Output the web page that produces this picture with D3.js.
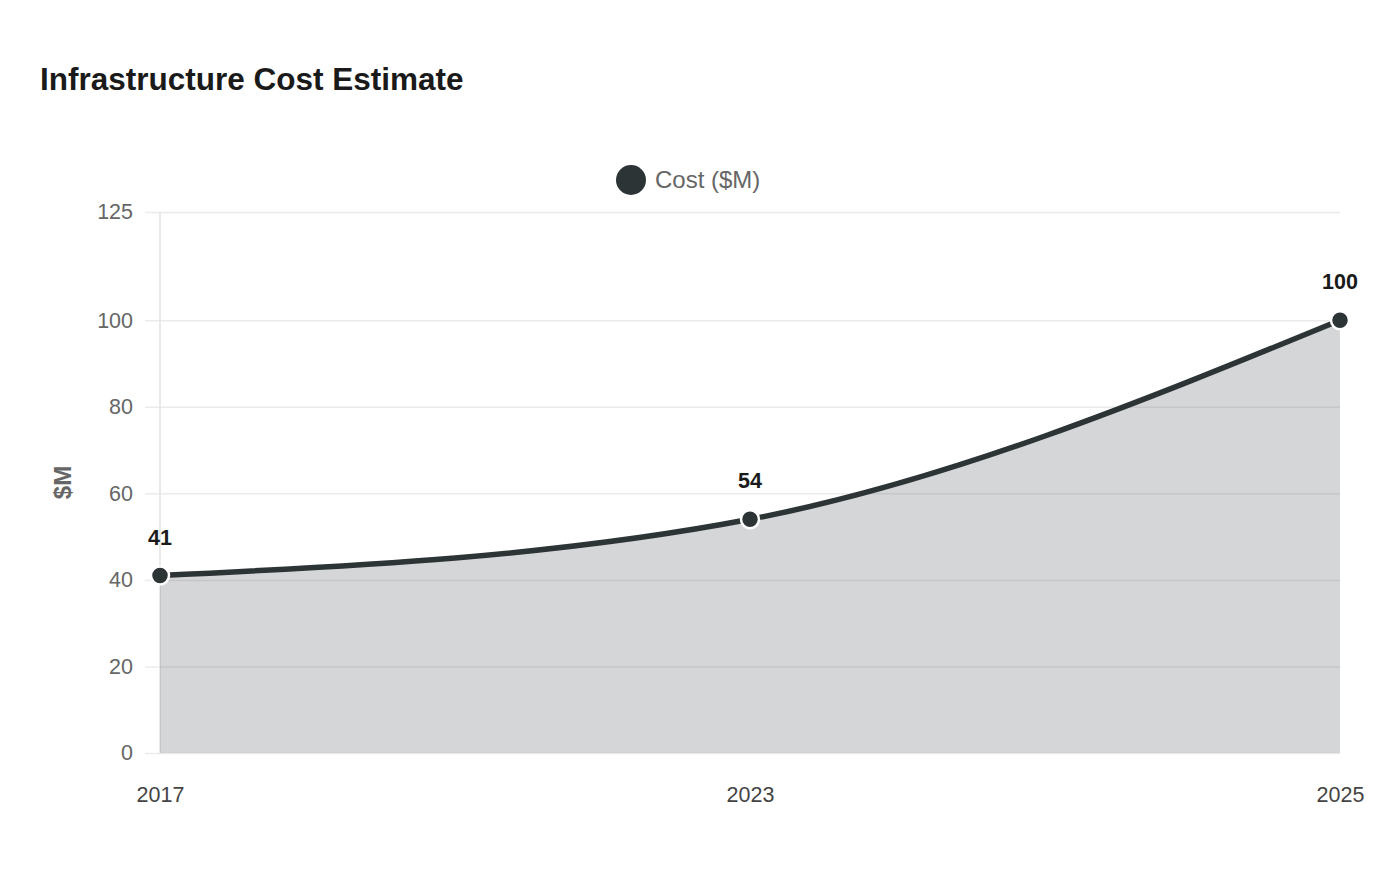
<!DOCTYPE html>
<html lang="en">
  <head>
    <meta charset="utf-8">
    <title>Infrastructure Cost Estimate</title>
    <script src="https://cdn.jsdelivr.net/npm/d3@7/dist/d3.min.js"></script>
    <style>
      body { margin: 0; background: #fff; font-family: "Liberation Sans", Arial, sans-serif; }
    </style>
  </head>
  <body>
    <div id="chart"></div>
    <script>
      // Data
      const years = ['2017', '2023', '2025'];
      const cost = [41, 54, 100];
      const yTicks = [0, 20, 40, 60, 80, 100, 125];

      const width = 1400, height = 880;
      const margin = { top: 212, right: 60, bottom: 127, left: 160 };
      const lineColor = '#2d3436';

      const svg = d3.select('#chart').append('svg')
        .attr('width', width)
        .attr('height', height);

      const x = d3.scalePoint()
        .domain(years)
        .range([margin.left, width - margin.right]);

      const y = d3.scaleLinear()
        .domain([0, 125])
        .range([height - margin.bottom, margin.top]);

      // Title
      svg.append('text')
        .attr('x', 40).attr('y', 90)
        .attr('font-size', 31.5).attr('font-weight', 'bold')
        .attr('fill', '#1a1a1a')
        .text('Infrastructure Cost Estimate');

      // Legend
      svg.append('circle')
        .attr('cx', 631).attr('cy', 180).attr('r', 15)
        .attr('fill', lineColor);
      svg.append('text')
        .attr('x', 655).attr('y', 188)
        .attr('font-size', 24).attr('fill', '#666')
        .text('Cost ($M)');

      // Grid + y axis
      const yAxis = d3.axisLeft(y)
        .tickValues(yTicks)
        .tickSize(15)
        .tickPadding(12);

      svg.append('g')
        .attr('transform', `translate(${margin.left},0)`)
        .call(yAxis)
        .call(g => g.select('.domain').remove())
        .call(g => g.selectAll('.tick line')
          .attr('x2', width - margin.right - margin.left)
          .attr('x1', -15)
          .attr('stroke', '#ebebeb')
          .attr('stroke-width', 1.5))
        .call(g => g.selectAll('.tick text')
          .attr('font-size', 21.5)
          .attr('fill', '#666')
          .attr('font-family', '"Liberation Sans", Arial, sans-serif'));

      // vertical axis line
      svg.append('line')
        .attr('x1', margin.left).attr('x2', margin.left)
        .attr('y1', y(125)).attr('y2', y(0))
        .attr('stroke', '#e3e3e3').attr('stroke-width', 1.5);

      // x axis labels
      const xAxis = d3.axisBottom(x).tickSize(0).tickPadding(34);
      svg.append('g')
        .attr('transform', `translate(0,${y(0)})`)
        .call(xAxis)
        .call(g => g.select('.domain').remove())
        .call(g => g.selectAll('.tick text')
          .attr('font-size', 21.5)
          .attr('fill', '#444')
          .attr('font-family', '"Liberation Sans", Arial, sans-serif'));

      // y axis title
      svg.append('text')
        .attr('transform', `translate(71,${(y(0) + y(125)) / 2}) rotate(-90)`)
        .attr('text-anchor', 'middle')
        .attr('font-size', 24).attr('font-weight', 'bold')
        .attr('fill', '#666')
        .text('$M');

      const points = years.map((d, i) => ({ year: d, value: cost[i] }));

      // Area
      const area = d3.area()
        .x(d => x(d.year))
        .y0(y(0))
        .y1(d => y(d.value))
        .curve(d3.curveMonotoneX);

      svg.append('path')
        .datum(points)
        .attr('d', area)
        .attr('fill', lineColor)
        .attr('fill-opacity', 0.2);

      // Line
      const line = d3.line()
        .x(d => x(d.year))
        .y(d => y(d.value))
        .curve(d3.curveMonotoneX);

      svg.append('path')
        .datum(points)
        .attr('d', line)
        .attr('fill', 'none')
        .attr('stroke', lineColor)
        .attr('stroke-width', 5.5);

      // Points
      svg.selectAll('.pt')
        .data(points)
        .enter()
          .append('circle')
          .attr('class', 'pt')
          .attr('cx', d => x(d.year))
          .attr('cy', d => y(d.value))
          .attr('r', 9)
          .attr('fill', lineColor)
          .attr('stroke', '#fff')
          .attr('stroke-width', 2.5);

      // Labels
      svg.selectAll('.lbl')
        .data(points)
        .enter()
          .append('text')
          .attr('class', 'lbl')
          .attr('x', d => x(d.year))
          .attr('y', d => y(d.value) - 31)
          .attr('text-anchor', 'middle')
          .attr('font-size', 21.5).attr('font-weight', 'bold')
          .attr('fill', '#1a1a1a')
          .text(d => d.value);
    </script>
  </body>
</html>
